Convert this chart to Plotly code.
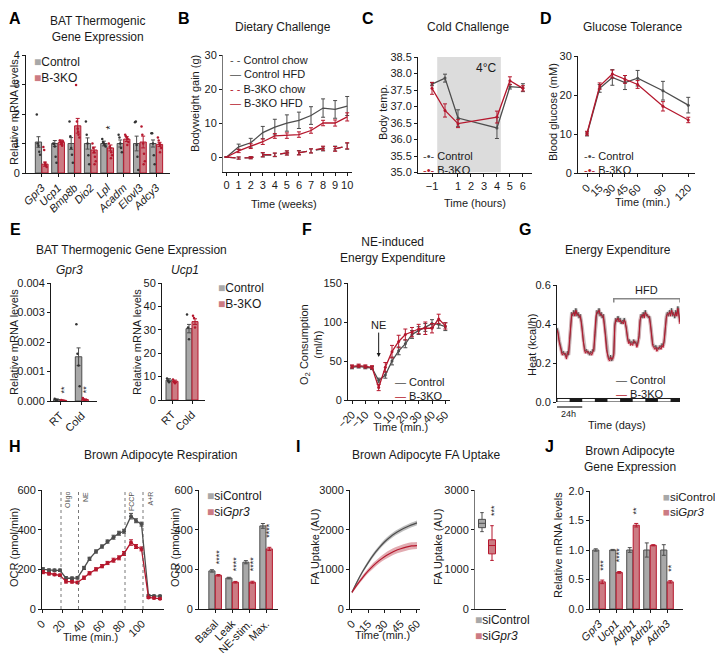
import plotly.graph_objects as go

# ==========================================
# CANVAS + STYLE
# ==========================================
# page body keeps an 8 px margin, so the figure is drawn 8 px in from the corner
OX, OY = 8, 8
PW, PH = 715, 645
FONT = "Arial, Liberation Sans, Helvetica, sans-serif"
INK = "#1a1a1a"
GREY = "#4d4d4d"
GREY_FILL = "#a8a8a8"
RED = "#b5172d"
RED_FILL = "#cc7b83"

# ==========================================
# DATA
# ==========================================
# A - BAT thermogenic genes
A_GENES = ["Gpr3", "Ucp1", "Bmp8b", "Dio2", "Lpl", "Acadm", "Elovl3", "Adcy3"]
A_CTRL = [1.05, 1.0, 1.0, 1.0, 1.0, 1.0, 1.0, 1.0]
A_CTRL_ERR = [0.18, 0.1, 0.2, 0.19, 0.08, 0.12, 0.25, 0.12]
A_KO = [0.3, 1.04, 1.6, 0.78, 0.85, 1.15, 1.05, 0.97]
A_KO_ERR = [0.07, 0.08, 0.25, 0.1, 0.1, 0.08, 0.2, 0.07]
A_CTRL_DOTS = [[1.98, 1.0, 0.92, 0.72, 0.62], [1.0, 0.98, 0.9, 0.55, 0.35],
               [1.75, 1.25, 0.85, 0.62, 0.35], [1.75, 1.3, 1.0, 0.6, 0.3],
               [1.15, 1.05, 1.0, 0.95, 0.9], [1.3, 1.2, 1.0, 0.85, 0.7],
               [1.72, 1.75, 0.95, 0.55, 0.1], [1.35, 1.35, 1.0, 0.6, 0.3]]
A_KO_DOTS = [[0.88, 0.78, 0.35, 0.25, 0.2, 0.3], [1.1, 1.05, 0.98, 0.92, 1.08, 1.0],
             [2.98, 1.75, 1.5, 1.3, 1.2, 1.4], [1.0, 0.85, 0.7, 0.55, 0.4, 0.3],
             [1.0, 0.9, 0.85, 0.7, 0.6, 0.5], [1.3, 1.25, 1.2, 1.15, 1.05, 0.95],
             [1.58, 1.3, 1.0, 0.65, 0.4, 0.3], [1.2, 1.1, 1.0, 0.95, 0.85, 0.7]]
A_STARS = ["", "", "", "", "*", "", "", ""]

# B - dietary challenge
B_WEEKS = [0, 1, 2, 3, 4, 5, 6, 7, 8, 9, 10]
B_CTRL_CHOW = [0, -0.3, -0.2, 0.6, 0.6, 1.2, 1.3, 1.8, 2.4, 2.5, 3.2]
B_KO_CHOW = [0, -0.3, -0.2, 0.7, 0.7, 1.2, 1.2, 1.8, 2.6, 2.4, 3.3]
B_CTRL_HFD = [0, 3.0, 4.2, 7.2, 8.8, 10.0, 10.8, 12.2, 14.4, 14.0, 15.0]
B_KO_HFD = [0, 1.8, 3.2, 4.5, 6.2, 6.3, 6.6, 7.8, 10.0, 10.0, 11.8]
B_CHOW_ERR = [0, 0.3, 0.3, 0.6, 0.5, 0.6, 0.6, 0.6, 0.6, 0.7, 0.9]
B_CTRL_HFD_ERR = [0, 0.8, 1.3, 1.8, 2.3, 2.4, 2.4, 2.6, 2.7, 2.6, 2.8]
B_KO_HFD_ERR = [0, 0.5, 0.7, 0.8, 0.7, 0.8, 0.8, 0.8, 0.8, 0.9, 1.2]

# C - cold challenge
C_HOURS = [-1, 0, 1, 4, 5, 6]
C_CTRL = [37.68, 37.86, 36.65, 36.35, 37.6, 37.57]
C_CTRL_ERR = [0.05, 0.12, 0.25, 0.32, 0.07, 0.12]
C_KO = [37.55, 36.88, 36.48, 36.68, 37.78, 37.55]
C_KO_ERR = [0.18, 0.2, 0.12, 0.18, 0.12, 0.08]
C_COLD = [-0.6, 4.3]

# D - glucose tolerance
D_MIN = [0, 15, 30, 45, 60, 90, 120]
D_CTRL = [10.0, 21.7, 24.5, 23.2, 24.3, 21.1, 17.4]
D_CTRL_ERR = [0.5, 1.0, 2.0, 1.8, 2.0, 2.4, 2.0]
D_KO = [10.2, 22.3, 25.4, 24.0, 22.7, 17.1, 13.6]
D_KO_ERR = [0.5, 0.8, 1.0, 1.0, 1.0, 1.2, 0.7]

# E - Gpr3 / Ucp1 RT vs cold
E_COND = ["RT", "Cold"]
E_GPR3_CTRL = [0.00005, 0.0015]
E_GPR3_CTRL_ERR = [0.00002, 0.0003]
E_GPR3_KO = [0.00002, 0.00005]
E_GPR3_KO_ERR = [0.00001, 0.00002]
E_GPR3_CTRL_DOTS = [[0.00008, 0.00004, 0.00003], [0.0026, 0.0016, 0.0012, 0.0005]]
E_GPR3_KO_DOTS = [[0.00003, 0.00002, 0.00001], [0.0001, 0.00005, 0.00002]]
E_UCP1_CTRL = [8.5, 30.5]
E_UCP1_CTRL_ERR = [0.6, 1.8]
E_UCP1_KO = [8.0, 33.5]
E_UCP1_KO_ERR = [0.5, 1.2]
E_UCP1_CTRL_DOTS = [[9.2, 8.3, 7.6], [36.5, 31.0, 26.0]]
E_UCP1_KO_DOTS = [[8.8, 7.9, 7.2], [36.0, 35.0, 31.0]]

# F - NE-induced energy expenditure
F_MIN = [-20, -15, -10, -5, 0, 5, 10, 15, 20, 25, 30, 35, 40, 45, 50]
F_CTRL = [42, 43, 42, 41, 25, 32, 50, 63, 72, 84, 89, 93, 98, 97, 94]
F_CTRL_ERR = [2, 2, 2, 2, 3, 4, 5, 5, 5, 5, 5, 5, 5, 5, 5]
F_KO = [43, 44, 43, 42, 16, 42, 62, 75, 84, 87, 91, 92, 92, 104, 95]
F_KO_ERR = [2, 2, 2, 2, 4, 6, 8, 8, 7, 6, 6, 8, 6, 6, 4]

# G - energy expenditure, indirect calorimetry (hourly)
G_CTRL = [0.38, 0.36, 0.32, 0.29, 0.27, 0.25, 0.26, 0.24, 0.25, 0.23, 0.26, 0.24,
          0.30, 0.40, 0.46, 0.44, 0.47, 0.45, 0.48, 0.44, 0.46, 0.43, 0.45, 0.42,
          0.38, 0.31, 0.28, 0.26, 0.27, 0.25, 0.26, 0.24, 0.26, 0.25, 0.27, 0.26,
          0.33, 0.43, 0.47, 0.45, 0.48, 0.44, 0.46, 0.43, 0.45, 0.41, 0.36, 0.29,
          0.25, 0.23, 0.22, 0.24, 0.21, 0.23, 0.25, 0.40, 0.43, 0.41, 0.44, 0.42,
          0.43, 0.40, 0.42, 0.41, 0.43, 0.40, 0.38, 0.33, 0.31, 0.32, 0.30, 0.31,
          0.30, 0.32, 0.30, 0.31, 0.29, 0.31, 0.33, 0.41, 0.45, 0.43, 0.46, 0.44,
          0.47, 0.44, 0.45, 0.43, 0.44, 0.40, 0.34, 0.30, 0.29, 0.28, 0.29, 0.27,
          0.28, 0.27, 0.29, 0.28, 0.30, 0.29, 0.31, 0.38, 0.44, 0.46, 0.44, 0.47,
          0.45, 0.48, 0.44, 0.46, 0.43, 0.47, 0.45, 0.49, 0.44, 0.41]
G_KO = [0.37, 0.35, 0.31, 0.28, 0.26, 0.24, 0.25, 0.25, 0.24, 0.22, 0.25, 0.25,
        0.32, 0.42, 0.45, 0.45, 0.46, 0.44, 0.47, 0.45, 0.45, 0.44, 0.44, 0.41,
        0.36, 0.30, 0.27, 0.25, 0.26, 0.26, 0.25, 0.25, 0.25, 0.24, 0.26, 0.27,
        0.35, 0.44, 0.46, 0.46, 0.47, 0.45, 0.45, 0.44, 0.44, 0.40, 0.34, 0.27,
        0.24, 0.22, 0.21, 0.23, 0.22, 0.22, 0.24, 0.39, 0.42, 0.42, 0.43, 0.41,
        0.42, 0.41, 0.41, 0.40, 0.42, 0.41, 0.37, 0.32, 0.30, 0.31, 0.29, 0.30,
        0.29, 0.31, 0.31, 0.30, 0.28, 0.30, 0.34, 0.42, 0.44, 0.44, 0.45, 0.43,
        0.46, 0.45, 0.44, 0.44, 0.43, 0.39, 0.33, 0.29, 0.28, 0.27, 0.28, 0.26,
        0.27, 0.28, 0.28, 0.27, 0.29, 0.28, 0.32, 0.39, 0.43, 0.45, 0.45, 0.46,
        0.44, 0.47, 0.45, 0.45, 0.44, 0.46, 0.44, 0.48, 0.45, 0.40]
G_HOURS = list(range(len(G_CTRL)))
G_DARK_START = [12, 36, 60, 84, 108]
G_HFD = [54, 117]

# H - seahorse respiration
H_MIN = [1, 7, 12.5, 18, 24, 30, 35.5, 42, 47.5, 54, 60, 65.5, 71.5, 77, 82,
         89, 94, 99.5, 106.5, 112, 118]
H_CTRL = [200, 196, 195, 195, 155, 155, 157, 207, 253, 290, 315, 340, 362, 382, 392,
          468, 445, 428, 68, 66, 65]
H_KO = [186, 178, 174, 170, 139, 137, 134, 158, 180, 200, 216, 232, 246, 258, 280,
        335, 315, 303, 58, 55, 52]
H_ERR = [8, 6, 6, 6, 8, 6, 6, 8, 8, 8, 8, 8, 10, 10, 10, 14, 10, 10, 4, 4, 4]
H_INJECT = [19, 36.5, 83, 101]
H_INJECT_LBL = ["Oligo", "NE", "FCCP", "A+R"]
H_PARAMS = ["Basal", "Leak", "NE-stim.", "Max."]
H_PAR_CTRL = [192, 156, 236, 419]
H_PAR_CTRL_ERR = [6, 4, 8, 12]
H_PAR_KO = [170, 135, 135, 303]
H_PAR_KO_ERR = [4, 4, 5, 8]
H_PAR_STARS = ["****", "****", "****", "****"]

# I - FA uptake
I_MIN = [0, 5, 10, 15, 20, 25, 30, 35, 40, 45, 50, 55, 60]
I_CTRL = [420, 700, 950, 1170, 1370, 1540, 1690, 1810, 1910, 1990, 2060, 2120, 2170]
I_CTRL_SEM = [30, 40, 45, 50, 55, 55, 60, 60, 60, 60, 60, 60, 60]
I_KO = [420, 620, 800, 960, 1100, 1220, 1320, 1400, 1470, 1520, 1560, 1590, 1600]
I_KO_SEM = [30, 45, 55, 60, 70, 75, 80, 85, 85, 90, 90, 90, 90]
I_BOX_CTRL = [1950, 2050, 2160, 2260, 2430]   # min, q1, median, q3, max
I_BOX_KO = [1225, 1390, 1600, 1745, 2100]

# J - brown adipocyte gene expression
J_GENES = ["Gpr3", "Ucp1", "Adrb1", "Adrb2", "Adrb3"]
J_CTRL = [1.0, 1.0, 1.0, 1.0, 1.0]
J_CTRL_ERR = [0.02, 0.01, 0.04, 0.12, 0.09]
J_KO = [0.46, 0.62, 1.42, 1.08, 0.46]
J_KO_ERR = [0.03, 0.015, 0.03, 0.01, 0.02]
J_STARS = ["***", "****", "**", "", "**"]

# ==========================================
# HELPERS
# ==========================================
fig = go.Figure()
layout = {}
annots = []
shapes = []


def fx(px):
    return (px - OX) / PW


def fy(py):
    return 1 - (py - OY) / PH


BASE = dict(showline=True, linecolor=INK, linewidth=1, ticks="outside", ticklen=3,
            tickwidth=1, tickcolor=INK, showgrid=False, zeroline=False, automargin=False,
            tickfont=dict(size=11, color=INK, family=FONT))


def ref(n):
    return ("x", "y") if n == 1 else (f"x{n}", f"y{n}")


def axes(n, box, xr, yr, xextra=None, yextra=None):
    x0, x1, y0, y1 = box
    xk, yk = ("xaxis", "yaxis") if n == 1 else (f"xaxis{n}", f"yaxis{n}")
    xa, ya = ref(n)
    layout[xk] = dict(BASE, domain=[fx(x0), fx(x1)], range=xr, anchor=ya, **(xextra or {}))
    layout[yk] = dict(BASE, domain=[fy(y1), fy(y0)], range=yr, anchor=xa, **(yextra or {}))


def txt(x, y, s, size=12, **kw):
    d = dict(x=fx(x), y=fy(y), xref="paper", yref="paper", text=s, showarrow=False,
             xanchor="center", yanchor="middle",
             font=dict(size=size, family=FONT, color=INK))
    d.update(kw)
    annots.append(d)


def ytitle(x, y, s, size=11):
    txt(x, y, s, size=size, textangle=-90)


def legend_box(x, y, items, size=11):
    # items: (symbol, colour, label)
    lines = [f'<span style="color:{c}">{sym}</span>{lab}' for sym, c, lab in items]
    txt(x, y, "<br>".join(lines), size=size, xanchor="left", yanchor="top", align="left")


def bars(n, xs, ys, err, fill, line, width):
    xa, ya = ref(n)
    fig.add_trace(go.Bar(x=xs, y=ys, width=width, xaxis=xa, yaxis=ya,
                         marker=dict(color=fill, line=dict(color=line, width=1)),
                         error_y=dict(type="data", array=err, color=line, thickness=1, width=2),
                         showlegend=False))


JIT = [-0.1, -0.05, 0.0, 0.05, 0.1, 0.03]


def dots(n, centres, groups, colour):
    xa, ya = ref(n)
    xs, ys = [], []
    for c, vals in zip(centres, groups):
        for k, v in enumerate(vals):
            xs.append(c + JIT[k % len(JIT)])
            ys.append(v)
    fig.add_trace(go.Scatter(x=xs, y=ys, mode="markers", xaxis=xa, yaxis=ya,
                             marker=dict(size=2.5, color=colour), showlegend=False))


def line_err(n, xs, ys, err, colour, dash="solid", marker=True, msize=4):
    xa, ya = ref(n)
    fig.add_trace(go.Scatter(x=xs, y=ys, xaxis=xa, yaxis=ya,
                             mode="lines+markers" if marker else "lines",
                             line=dict(color=colour, width=1.3, dash=dash),
                             marker=dict(size=msize, color=colour),
                             error_y=dict(type="data", array=err, color=colour, thickness=1, width=2),
                             showlegend=False))


def stars(n, xs, ys, labels, size=9):
    xa, ya = ref(n)
    for x, y, s in zip(xs, ys, labels):
        if s:
            annots.append(dict(x=x, y=y, xref=xa, yref=ya, text=s, showarrow=False,
                               textangle=-90, xanchor="center", yanchor="bottom",
                               font=dict(size=size, family=FONT, color=INK)))


BOLD = dict(size=16, family=FONT, color="#000")
for lab, x, y in [("A", 15, 18), ("B", 184, 18), ("C", 368, 18), ("D", 546, 18),
                  ("E", 15, 229), ("F", 307, 229), ("G", 525, 229),
                  ("H", 15, 446), ("I", 298, 446), ("J", 549, 446)]:
    txt(x, y, f"<b>{lab}</b>", size=16, font=BOLD)

# ==========================================
# A
# ==========================================
axes(1, (26, 170, 55, 173), [-0.96, 7.84], [0, 4],
     xextra=dict(tickvals=list(range(len(A_GENES))),
                 ticktext=[f"<i>{g}</i>" for g in A_GENES], tickangle=-45),
     yextra=dict(tickvals=[0, 1, 2, 3, 4]))
a_pos = list(range(len(A_GENES)))
bars(1, [p - 0.2 for p in a_pos], A_CTRL, A_CTRL_ERR, GREY_FILL, GREY, 0.38)
bars(1, [p + 0.2 for p in a_pos], A_KO, A_KO_ERR, RED_FILL, RED, 0.38)
dots(1, [p - 0.2 for p in a_pos], A_CTRL_DOTS, "#333")
dots(1, [p + 0.2 for p in a_pos], A_KO_DOTS, RED)
stars(1, [p + 0.2 for p in a_pos], [v + e + 0.45 for v, e in zip(A_KO, A_KO_ERR)], A_STARS, size=11)
ytitle(14, 112, "Relative mRNA levels", size=11)
txt(97, 29, "BAT Thermogenic<br>Gene Expression", size=12)
legend_box(32, 53, [("■", GREY_FILL, "Control"), ("■", RED_FILL, "B-3KO")], size=12)

# ==========================================
# B
# ==========================================
axes(2, (223, 352, 55, 172), [-0.3, 10.4], [-4.4, 30],
     xextra=dict(tickvals=B_WEEKS),
     yextra=dict(tickvals=[0, 10, 20, 30], linecolor="#777"))
line_err(2, B_WEEKS, B_CTRL_CHOW, B_CHOW_ERR, GREY, dash="dash", marker=False)
line_err(2, B_WEEKS, B_KO_CHOW, B_CHOW_ERR, RED, dash="dash", marker=False)
line_err(2, B_WEEKS, B_CTRL_HFD, B_CTRL_HFD_ERR, GREY, marker=False)
line_err(2, B_WEEKS, B_KO_HFD, B_KO_HFD_ERR, RED, marker=False)
ytitle(195, 104, "Bodyweight gain (g)")
txt(284, 204, "Time (weeks)", size=11)
txt(283, 27, "Dietary Challenge", size=12)
legend_box(228, 52, [("- - ", GREY, "Control chow"), ("— ", GREY, "Control HFD"),
                     ("- - ", RED, "B-3KO chow"), ("— ", RED, "B-3KO HFD")], size=11)

# ==========================================
# C
# ==========================================
axes(3, (418, 532, 57, 172.5), [-2.08, 6.7], [35, 38.5],
     xextra=dict(tickvals=[-1, 1, 2, 3, 4, 5, 6]),
     yextra=dict(tickvals=[35, 35.5, 36, 36.5, 37, 37.5, 38, 38.5], tickformat=".1f"))
shapes.append(dict(type="rect", xref="x3", yref="y3", x0=C_COLD[0], x1=C_COLD[1],
                   y0=35, y1=38.5, fillcolor="#dcdcdc", line=dict(width=0), layer="below"))
annots.append(dict(x=C_COLD[1], y=38.5, xref="x3", yref="y3", text="4°C", showarrow=False,
                   xanchor="right", yanchor="top", xshift=-3, yshift=-2,
                   font=dict(size=12, family=FONT, color=INK)))
line_err(3, C_HOURS, C_CTRL, C_CTRL_ERR, GREY, msize=3)
line_err(3, C_HOURS, C_KO, C_KO_ERR, RED, msize=3)
ytitle(383, 112, "Body temp.")
txt(475, 203, "Time (hours)", size=11)
txt(468, 27, "Cold Challenge", size=12)
legend_box(421, 148, [("-•- ", GREY, "Control"), ("-•- ", RED, "B-3KO")], size=11)

# ==========================================
# D
# ==========================================
axes(4, (578, 695, 56, 173), [-10.7, 128], [0, 30],
     xextra=dict(tickvals=D_MIN, tickangle=-45),
     yextra=dict(tickvals=[0, 10, 20, 30]))
line_err(4, D_MIN, D_CTRL, D_CTRL_ERR, GREY, msize=3)
line_err(4, D_MIN, D_KO, D_KO_ERR, RED, msize=3)
ytitle(553, 112, "Blood glucose (mM)")
txt(642, 202, "Time (min.)", size=11)
txt(632, 27, "Glucose Tolerance", size=12)
legend_box(582, 148, [("-•- ", GREY, "Control"), ("-•- ", RED, "B-3KO")], size=11)

# ==========================================
# E
# ==========================================
axes(5, (51, 97, 283, 401), [-0.42, 1.7], [0, 0.004],
     xextra=dict(tickvals=[0, 1], ticktext=E_COND, tickangle=-45),
     yextra=dict(tickvals=[0, 0.001, 0.002, 0.003, 0.004], tickformat=".3f"))
e_pos = [0, 1]
bars(5, [p - 0.15 for p in e_pos], E_GPR3_CTRL, E_GPR3_CTRL_ERR, GREY_FILL, GREY, 0.3)
bars(5, [p + 0.15 for p in e_pos], E_GPR3_KO, E_GPR3_KO_ERR, RED_FILL, RED, 0.3)
dots(5, [p - 0.15 for p in e_pos], E_GPR3_CTRL_DOTS, "#333")
dots(5, [p + 0.15 for p in e_pos], E_GPR3_KO_DOTS, RED)
stars(5, [p + 0.2 for p in e_pos], [0.0002, 0.0002], ["**", "**"])
ytitle(14, 342, "Relative mRNA levels")

axes(6, (162, 205, 283, 400), [-0.5, 1.65], [0, 50],
     xextra=dict(tickvals=[0, 1], ticktext=E_COND, tickangle=-45),
     yextra=dict(tickvals=[0, 10, 20, 30, 40, 50]))
bars(6, [p - 0.15 for p in e_pos], E_UCP1_CTRL, E_UCP1_CTRL_ERR, GREY_FILL, GREY, 0.3)
bars(6, [p + 0.15 for p in e_pos], E_UCP1_KO, E_UCP1_KO_ERR, RED_FILL, RED, 0.3)
dots(6, [p - 0.15 for p in e_pos], E_UCP1_CTRL_DOTS, "#333")
dots(6, [p + 0.15 for p in e_pos], E_UCP1_KO_DOTS, RED)
ytitle(137, 342, "Relative mRNA levels")
txt(132, 250, "BAT Thermogenic Gene Expression", size=12)
txt(70, 270, "<i>Gpr3</i>", size=12)
txt(185, 270, "<i>Ucp1</i>", size=12)
legend_box(216, 279, [("■", GREY_FILL, "Control"), ("■", RED_FILL, "B-3KO")], size=12)

# ==========================================
# F
# ==========================================
axes(7, (348, 450, 283, 400), [-23, 53.5], [0, 150],
     xextra=dict(tickvals=[-20, -10, 0, 10, 20, 30, 40, 50], tickangle=-45),
     yextra=dict(tickvals=[0, 50, 100, 150]))
line_err(7, F_MIN, F_CTRL, F_CTRL_ERR, GREY, msize=3)
line_err(7, F_MIN, F_KO, F_KO_ERR, RED, msize=3)
annots.append(dict(x=0, y=55, xref="x7", yref="y7", text="NE", showarrow=True,
                   arrowhead=2, arrowsize=0.8, arrowwidth=1, arrowcolor=INK, ax=0, ay=-32,
                   font=dict(size=11, family=FONT, color=INK)))
ytitle(311, 345, "O<sub>2</sub> Consumption<br>(ml/h)")
txt(400, 427, "Time (min.)", size=11)
txt(393, 250, "NE-induced<br>Energy Expenditure", size=12)
legend_box(393, 374, [("— ", GREY, "Control"), ("— ", RED, "B-3KO")], size=11)

# ==========================================
# G
# ==========================================
axes(8, (557, 680, 285, 402), [0, 117], [0, 0.6],
     xextra=dict(showticklabels=False, ticks="", showline=False),
     yextra=dict(tickvals=[0, 0.2, 0.4, 0.6], tickformat=".1f"))
for series, col, halo in [(G_CTRL, GREY, "rgba(120,120,120,0.35)"), (G_KO, RED, "rgba(200,80,95,0.3)")]:
    fig.add_trace(go.Scatter(x=G_HOURS, y=series, xaxis="x8", yaxis="y8", mode="lines",
                             line=dict(color=halo, width=3.5), showlegend=False, hoverinfo="skip"))
    fig.add_trace(go.Scatter(x=G_HOURS, y=series, xaxis="x8", yaxis="y8", mode="lines",
                             line=dict(color=col, width=1), showlegend=False))
shapes.append(dict(type="rect", xref="x8", yref="y8", x0=0, x1=117, y0=0, y1=0.018,
                   line=dict(color=INK, width=1), fillcolor="white"))
for s in G_DARK_START:
    shapes.append(dict(type="rect", xref="x8", yref="y8", x0=s, x1=min(s + 12, 117),
                       y0=0, y1=0.018, line=dict(width=0), fillcolor=INK))
shapes.append(dict(type="path", xref="x8", yref="y8",
                   path=f"M{G_HFD[0]},0.51 L{G_HFD[0]},0.53 L{G_HFD[1]},0.53 L{G_HFD[1]},0.51",
                   line=dict(color="#888", width=1.5)))
annots.append(dict(x=sum(G_HFD) / 2, y=0.535, xref="x8", yref="y8", text="HFD", showarrow=False,
                   xanchor="center", yanchor="bottom", font=dict(size=11, family=FONT, color=INK)))
shapes.append(dict(type="line", xref="x8", yref="paper", x0=0, x1=24,
                   y0=fy(407), y1=fy(407), line=dict(color=INK, width=1.2)))
txt(568, 414, "24h", size=9)
ytitle(532, 345, "Heat (kcal/h)")
txt(617, 425, "Time (days)", size=11)
txt(618, 250, "Energy Expenditure", size=12)
legend_box(614, 372, [("— ", GREY, "Control"), ("— ", RED, "B-3KO")], size=11)

# ==========================================
# H
# ==========================================
axes(9, (42, 164, 490, 609), [0, 122], [0, 600],
     xextra=dict(tickvals=[0, 20, 40, 60, 80, 100], tickangle=-45),
     yextra=dict(tickvals=[0, 200, 400, 600]))
for t, lab in zip(H_INJECT, H_INJECT_LBL):
    shapes.append(dict(type="line", xref="x9", yref="y9 domain", x0=t, x1=t, y0=0, y1=1,
                       line=dict(color="#555", width=0.8, dash="dot")))
    annots.append(dict(x=t, y=1, xref="x9", yref="y9 domain", text=lab, showarrow=False,
                       textangle=-90, xanchor="left", yanchor="top", xshift=1,
                       font=dict(size=7, family=FONT, color="#555")))
line_err(9, H_MIN, H_CTRL, H_ERR, GREY, msize=4)
line_err(9, H_MIN, H_KO, H_ERR, RED, msize=4)
ytitle(14, 548, "OCR (pmol/min)")
txt(90, 637, "Time (min.)", size=11)

axes(10, (199, 278, 490, 609), [-0.95, 3.7], [0, 600],
     xextra=dict(tickvals=list(range(len(H_PARAMS))), ticktext=H_PARAMS, tickangle=-45),
     yextra=dict(tickvals=[0, 200, 400, 600]))
h_pos = list(range(len(H_PARAMS)))
bars(10, [p - 0.19 for p in h_pos], H_PAR_CTRL, H_PAR_CTRL_ERR, GREY_FILL, GREY, 0.36)
bars(10, [p + 0.19 for p in h_pos], H_PAR_KO, H_PAR_KO_ERR, RED_FILL, RED, 0.36)
stars(10, [p + 0.19 for p in h_pos], [c + 45 for c in H_PAR_KO], H_PAR_STARS)
ytitle(175, 548, "OCR (pmol/min)")
txt(160, 455, "Brown Adipocyte Respiration", size=12)
legend_box(205, 487, [("■", GREY_FILL, "siControl"), ("■", RED_FILL, "si<i>Gpr3</i>")], size=12)

# ==========================================
# I
# ==========================================
axes(11, (350, 420, 490, 609), [-1.8, 62.8], [0, 3000],
     xextra=dict(tickvals=[0, 15, 30, 45, 60], tickangle=-45),
     yextra=dict(tickvals=[0, 1000, 2000, 3000]))
for mean, sem, col, band in [(I_CTRL, I_CTRL_SEM, GREY, "rgba(110,110,110,0.45)"),
                             (I_KO, I_KO_SEM, RED, "rgba(190,70,85,0.45)")]:
    fig.add_trace(go.Scatter(x=I_MIN, y=[m + s for m, s in zip(mean, sem)], xaxis="x11", yaxis="y11",
                             mode="lines", line=dict(width=0, shape="spline"), showlegend=False))
    fig.add_trace(go.Scatter(x=I_MIN, y=[m - s for m, s in zip(mean, sem)], xaxis="x11", yaxis="y11",
                             mode="lines", line=dict(width=0, shape="spline"), fill="tonexty",
                             fillcolor=band, showlegend=False))
    fig.add_trace(go.Scatter(x=I_MIN, y=mean, xaxis="x11", yaxis="y11", mode="lines",
                             line=dict(color=col, width=1.2, shape="spline"), showlegend=False))
ytitle(315, 547, "FA Uptake (AU)")
txt(382, 635, "Time (min.)", size=11)

axes(12, (475, 506, 490, 609), [-0.7, 2.4], [0, 3000],
     xextra=dict(showticklabels=False, ticks=""),
     yextra=dict(tickvals=[0, 1000, 2000, 3000], linecolor="#777"))
for pos, q, fill, col in [(0, I_BOX_CTRL, GREY_FILL, GREY), (1, I_BOX_KO, RED_FILL, RED)]:
    fig.add_trace(go.Box(x=[pos], lowerfence=[q[0]], q1=[q[1]], median=[q[2]], q3=[q[3]],
                         upperfence=[q[4]], width=0.7, xaxis="x12", yaxis="y12",
                         fillcolor=fill, line=dict(color=col, width=1), showlegend=False))
stars(12, [1.2], [I_BOX_KO[4] + 180], ["***"])
ytitle(438, 547, "FA Uptake (AU)")
txt(426, 455, "Brown Adipocyte FA Uptake", size=12)
legend_box(473, 611, [("■", GREY_FILL, "siControl"), ("■", RED_FILL, "si<i>Gpr3</i>")], size=12)

# ==========================================
# J
# ==========================================
axes(13, (590, 683, 491, 609), [-0.53, 4.94], [0, 2],
     xextra=dict(tickvals=list(range(len(J_GENES))),
                 ticktext=[f"<i>{g}</i>" for g in J_GENES], tickangle=-45),
     yextra=dict(tickvals=[0, 0.5, 1, 1.5, 2], tickformat=".1f"))
j_pos = list(range(len(J_GENES)))
bars(13, [p - 0.19 for p in j_pos], J_CTRL, J_CTRL_ERR, GREY_FILL, GREY, 0.36)
bars(13, [p + 0.19 for p in j_pos], J_KO, J_KO_ERR, RED_FILL, RED, 0.36)
stars(13, [p + 0.19 for p in j_pos], [v + e + 0.12 for v, e in zip(J_KO, J_KO_ERR)], J_STARS)
ytitle(558, 545, "Relative mRNA levels")
txt(630, 459, "Brown Adipocyte<br>Gene Expression", size=12)
legend_box(661, 489, [("■", GREY_FILL, "siControl"), ("■", RED_FILL, "si<i>Gpr3</i>")], size=11.5)

# ==========================================
# LAYOUT + EXPORT
# ==========================================
fig.update_layout(width=PW, height=PH, margin=dict(l=0, r=0, t=0, b=0, pad=0, autoexpand=False),
                  paper_bgcolor="white", plot_bgcolor="white", showlegend=False,
                  barmode="overlay", font=dict(family=FONT, size=11, color=INK),
                  annotations=annots, shapes=shapes, **layout)
fig.write_html("out.html")
